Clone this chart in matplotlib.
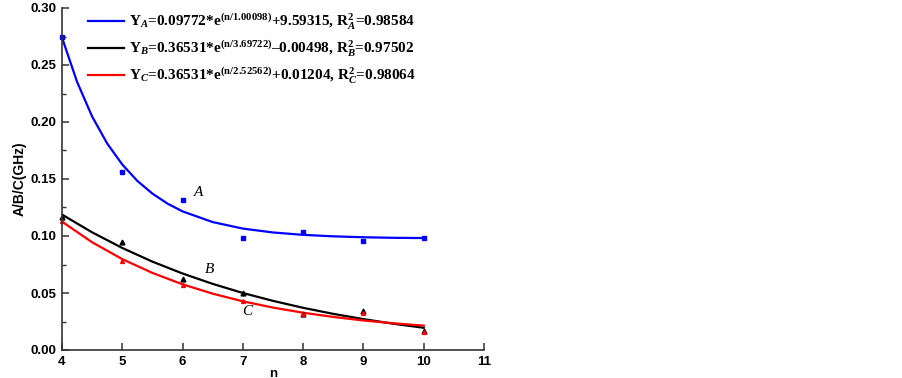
import matplotlib
matplotlib.use("Agg")
import matplotlib.pyplot as plt
from matplotlib.ticker import MultipleLocator

# measured data
n_pts = [4, 5, 6, 7, 8, 9, 10]
A_pts = [0.275, 0.1564, 0.132, 0.0985, 0.1035, 0.0953, 0.0985]
B_pts = [0.117, 0.0944, 0.0626, 0.0503, 0.0316, 0.0339, 0.0164]
C_pts = [0.113, 0.078, 0.0573, 0.043, 0.0316, 0.0327, 0.0158]

# fitted curves
nA_fit = [4, 4.25, 4.5, 4.75, 5, 5.25, 5.5, 5.75, 6, 6.5, 7, 7.5, 8, 8.5, 9, 9.5, 10]
A_fit = [0.2741, 0.2352, 0.2048, 0.1811, 0.1627, 0.1483, 0.1372, 0.1284, 0.1216,
         0.1122, 0.1065, 0.1031, 0.1010, 0.0997, 0.0989, 0.0984, 0.0982]
nBC_fit = [4, 4.5, 5, 5.5, 6, 6.5, 7, 7.5, 8, 8.5, 9, 9.5, 10]
B_fit = [0.1188, 0.1032, 0.0895, 0.0775, 0.0671, 0.0580, 0.0500, 0.0431, 0.0370,
         0.0317, 0.0271, 0.0230, 0.0195]
C_fit = [0.1126, 0.0945, 0.0797, 0.0676, 0.0576, 0.0494, 0.0427, 0.0372, 0.0327,
         0.0290, 0.0259, 0.0234, 0.0214]

labels = [
    r"$\mathbf{Y}_{\mathit{A}}$=0.09772*e$^{\mathbf{(n/1.00098)}}$+9.59315, R$_{\mathit{A}}^{\mathbf{2}}$=0.98584",
    r"$\mathbf{Y}_{\mathit{B}}$=0.36531*e$^{\mathbf{(n/3.69722)}}$–0.00498, R$_{\mathit{B}}^{\mathbf{2}}$=0.97502",
    r"$\mathbf{Y}_{\mathit{C}}$=0.36531*e$^{\mathbf{(n/2.52562)}}$+0.01204, R$_{\mathit{C}}^{\mathbf{2}}$=0.98064",
]
curve_names = ["A", "B", "C"]
name_pos_n = [6.26, 6.45, 7.07]
name_pos_y = [0.138, 0.071, 0.0336]

plt.rcParams["mathtext.fontset"] = "custom"
plt.rcParams["mathtext.rm"] = "Liberation Serif:bold"
plt.rcParams["mathtext.bf"] = "Liberation Serif:bold"
plt.rcParams["mathtext.it"] = "Liberation Serif:italic:bold"

fig = plt.figure(figsize=(9.03, 3.78), dpi=100)
ax = fig.add_axes([62/903, 1-350/378, (484-62)/903, (350-8)/378])

blue, black, red = "#0000ff", "#000000", "#ff0000"
lA, = ax.plot(nA_fit, A_fit, color=blue, lw=1.6, label=labels[0])
lB, = ax.plot(nBC_fit, B_fit, color=black, lw=1.6, label=labels[1])
lC, = ax.plot(nBC_fit, C_fit, color=red, lw=1.6, label=labels[2])
ax.plot(n_pts, A_pts, ls="none", marker="s", ms=3, color=blue, clip_on=False)
ax.plot(n_pts, B_pts, ls="none", marker="^", ms=3.5, color=black, clip_on=False)
ax.plot(n_pts, C_pts, ls="none", marker="^", ms=2.8, color=red, clip_on=False)

for nm, xn, yn in zip(curve_names, name_pos_n, name_pos_y):
    ax.text(xn, yn, nm, fontfamily="Liberation Serif", fontstyle="italic",
            fontsize=11, ha="center", va="center")

ax.set_xlim(4, 11)
ax.set_ylim(0, 0.30)
ax.xaxis.set_major_locator(MultipleLocator(1))
ax.yaxis.set_major_locator(MultipleLocator(0.05))
ax.yaxis.set_minor_locator(MultipleLocator(0.025))
ax.yaxis.set_major_formatter(matplotlib.ticker.FormatStrFormatter("%.2f"))
for s in ["top", "right"]:
    ax.spines[s].set_visible(False)
for s in ["left", "bottom"]:
    ax.spines[s].set_linewidth(1.2)
    ax.spines[s].set_color("#333333")
ax.tick_params(axis="both", which="major", direction="in", length=5, width=1.1,
               color="#333333", labelsize=9.5, pad=4)
ax.tick_params(axis="y", which="minor", direction="in", length=3, width=1.0, color="#333333")
for lab in ax.get_xticklabels() + ax.get_yticklabels():
    lab.set_fontfamily("Liberation Sans")
    lab.set_fontweight("bold")

ax.set_xlabel("n", fontfamily="Liberation Sans", fontweight="bold", fontsize=9.5, labelpad=0)
ax.set_ylabel("A/B/C(GHz)", fontfamily="Liberation Sans", fontweight="bold", fontsize=10, labelpad=3)

leg = ax.legend(handles=[lA, lB, lC], loc="upper left", bbox_to_anchor=(0.03, 1.03),
                frameon=False, handlelength=2.3, handletextpad=0.35, labelspacing=0.45,
                prop={"family": "Liberation Serif", "weight": "bold", "size": 11})

fig.savefig("out.png", dpi=100)
